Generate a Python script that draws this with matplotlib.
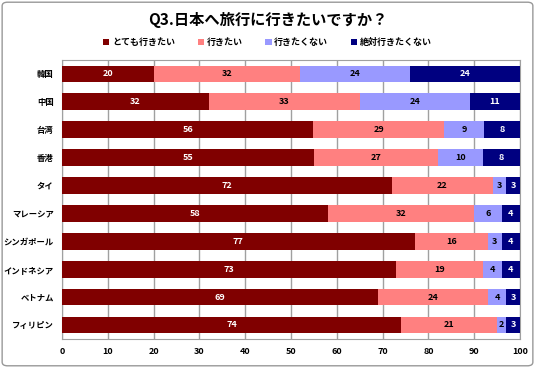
import numpy as np
import matplotlib.pyplot as plt
from matplotlib.patches import FancyBboxPatch

plt.rcParams['font.family'] = ['Noto Sans CJK JP', 'DejaVu Sans']

countries = ['韓国', '中国', '台湾', '香港', 'タイ', 'マレーシア', 'シンガポール',
             'インドネシア', 'ベトナム', 'フィリピン']
very_want = [20, 32, 56, 55, 72, 58, 77, 73, 69, 74]
want = [32, 33, 29, 27, 22, 32, 16, 19, 24, 21]
not_want = [24, 24, 9, 10, 3, 6, 3, 4, 4, 2]
never = [24, 11, 8, 8, 3, 4, 4, 4, 3, 3]

series_names = ['とても行きたい', '行きたい', '行きたくない', '絶対行きたくない']
colors = ['#800000', '#FF8080', '#9999FF', '#000080']
text_colors = ['white', 'black', 'black', 'white']

data = np.array([very_want, want, not_want, never], dtype=float)
pct = data / data.sum(axis=0) * 100  # 100% stacked

fig = plt.figure(figsize=(5.35, 3.68), dpi=100)
fig.patches.append(FancyBboxPatch((0.004, 0.006), 0.992, 0.988, boxstyle='round,pad=0,rounding_size=0.01',
                                  transform=fig.transFigure, fill=False, edgecolor='#999999', lw=1))
ax = fig.add_axes([0.116, 0.079, 0.856, 0.758])

y = np.arange(len(countries))
left = np.zeros(len(countries))
for i in range(4):
    ax.barh(y, pct[i], left=left, height=0.6, color=colors[i], label=series_names[i], zorder=3)
    for j in range(len(countries)):
        ax.text(left[j] + pct[i][j] / 2, y[j], str(int(data[i][j])), ha='center', va='center',
                fontsize=6.5, fontweight='bold', color=text_colors[i], zorder=4)
    left += pct[i]

ax.set_ylim(len(countries) - 0.5, -0.5)
ax.set_xlim(0, 100)
ax.set_xticks(np.arange(0, 101, 10))
ax.set_yticks(y)
ax.set_yticklabels(countries, fontsize=6, fontweight='bold')
ax.tick_params(axis='x', labelsize=6.5, length=0, pad=6)
ax.tick_params(axis='y', length=0, pad=6)
for lbl in ax.get_xticklabels():
    lbl.set_fontweight('bold')
ax.grid(axis='x', color='#A0A0A0', lw=1, zorder=0)
for s in ax.spines.values():
    s.set_color('#A0A0A0')

fig.text(0.5, 0.945, 'Q3.日本へ旅行に行きたいですか？', ha='center', va='center',
         fontsize=11, fontweight='bold')
fig.legend(loc='center', bbox_to_anchor=(0.5, 0.885), ncol=4, frameon=False,
           prop={'size': 6.5, 'weight': 'bold'}, handlelength=0.7, handleheight=0.7,
           handletextpad=0.3, columnspacing=2.5)

fig.savefig('out.png', dpi=100)
